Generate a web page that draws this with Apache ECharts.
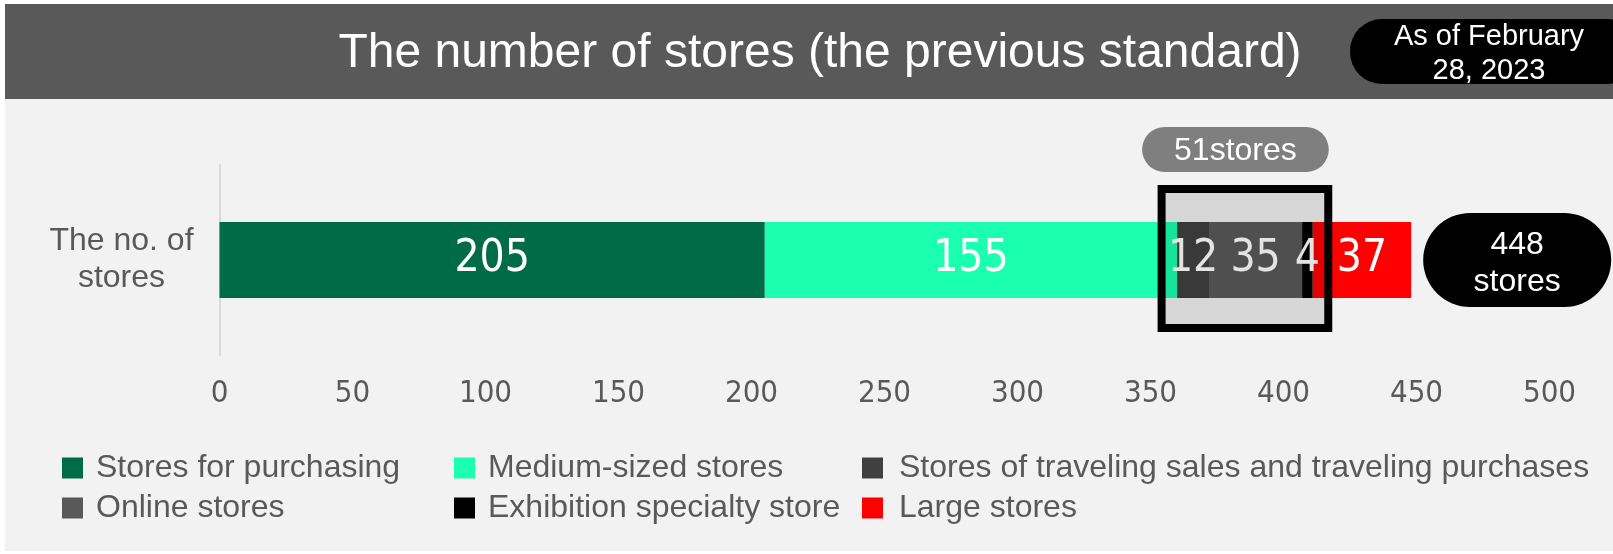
<!DOCTYPE html>
<html>
<head>
<meta charset="utf-8">
<script src="https://cdn.jsdelivr.net/npm/echarts@6/dist/echarts.min.js"></script>
<style>
  html, body { margin: 0; padding: 0; background: #ffffff; }
  #chart { width: 1613px; height: 554px; }
</style>
</head>
<body>
<div id="chart"></div>
<script>
// Store counts by format (single stacked bar)
const categories = ['The no. of\nstores'];
const seriesNames = [
  'Stores for purchasing',
  'Medium-sized stores',
  'Stores of traveling sales and traveling purchases',
  'Online stores',
  'Exhibition specialty store',
  'Large stores'
];
const seriesValues = [205, 155, 12, 35, 4, 37];
const seriesColors = ['#006B47', '#1BFFB1', '#404040', '#595959', '#000000', '#FF0000'];
// Segments grouped by the framed box (traveling, online, exhibition)
const groupedIndices = [2, 3, 4];
const axisMin = 0;
const axisMax = 500;
const axisInterval = 50;
const titleText = 'The number of stores (the previous standard)';
const dateText = 'As of February\n28, 2023';
const storeUnit = 'stores';

const narrowFont = "'Liberation Sans Narrow', 'Arial Narrow', 'DejaVu Sans Condensed', 'Roboto', sans-serif";
const sansFont = "'Liberation Sans', Arial, sans-serif";
const textGray = '#595959';

const chart = echarts.init(document.getElementById('chart'), null, { renderer: 'canvas' });

const series = seriesNames.map((name, i) => ({
  name: name,
  type: 'bar',
  stack: 'total',
  barWidth: 76,
  data: [seriesValues[i]],
  itemStyle: { color: seriesColors[i] },
  label: {
    show: true,
    position: 'inside',
    color: '#ffffff',
    fontFamily: narrowFont,
    fontSize: 44,
    formatter: '{c}'
  },
  emphasis: { disabled: true }
}));

const legendCommon = {
  orient: 'vertical',
  top: 452,
  padding: 0,
  itemWidth: 21,
  itemHeight: 21,
  itemGap: 8,
  icon: 'rect',
  selectedMode: false,
  textStyle: { color: textGray, fontSize: 32, fontFamily: sansFont, padding: [0, 0, 0, 8] }
};

const option = {
  backgroundColor: '#ffffff',
  animation: false,
  grid: { left: 219.5, right: 63.5, top: 165, bottom: 199, containLabel: false },
  legend: [
    Object.assign({}, legendCommon, { left: 62, data: [seriesNames[0], seriesNames[3]] }),
    Object.assign({}, legendCommon, { left: 454, data: [seriesNames[1], seriesNames[4]] }),
    Object.assign({}, legendCommon, { left: 862, data: [seriesNames[2], seriesNames[5]],
      textStyle: Object.assign({}, legendCommon.textStyle, { padding: [0, 0, 0, 11] }) })
  ],
  xAxis: {
    type: 'value',
    min: axisMin,
    max: axisMax,
    interval: axisInterval,
    splitLine: { show: false },
    axisLine: { show: false },
    axisTick: { show: false },
    axisLabel: { color: textGray, fontSize: 31, fontFamily: narrowFont, margin: 23 }
  },
  yAxis: {
    type: 'category',
    data: categories,
    axisLine: { show: true, lineStyle: { color: '#d9d9d9', width: 2 } },
    axisTick: { show: false },
    axisLabel: {
      color: textGray, fontSize: 32, fontFamily: sansFont,
      lineHeight: 37, align: 'center', margin: 98
    }
  },
  series: series
};

chart.setOption(option);

// Annotation shapes positioned from the value axis
const px = (v) => chart.convertToPixel({ xAxisIndex: 0, yAxisIndex: 0 }, [v, 0]);
const cumulative = (n) => seriesValues.slice(0, n).reduce((a, b) => a + b, 0);
const groupStart = cumulative(groupedIndices[0]);
const groupEnd = cumulative(groupedIndices[groupedIndices.length - 1] + 1);
const groupTotal = groupedIndices.reduce((a, i) => a + seriesValues[i], 0);
const grandTotal = cumulative(seriesValues.length);

const pStart = px(groupStart);
const pEnd = px(groupEnd);
const pTotal = px(grandTotal);
const barCenterY = pStart[1];

chart.setOption({
  graphic: [
    // panel and header band
    { type: 'rect', z: -10, silent: true, shape: { x: 5, y: 4, width: 1608, height: 547 }, style: { fill: '#f2f2f2' } },
    { type: 'rect', z: -9, silent: true, shape: { x: 5, y: 4, width: 1608, height: 95 }, style: { fill: '#595959' } },
    { type: 'text', z: 10, silent: true, x: 820, y: 54,
      style: { text: titleText, fill: '#ffffff', font: '48px ' + sansFont, align: 'center', verticalAlign: 'middle' } },
    { type: 'rect', z: 10, silent: true, shape: { x: 1350, y: 19, width: 290, height: 65, r: 32 }, style: { fill: '#000000' } },
    { type: 'text', z: 11, silent: true, x: 1489, y: 54,
      style: { text: dateText, fill: '#ffffff', font: '29px ' + sansFont, lineHeight: 34, align: 'center', verticalAlign: 'middle' } },
    // frame over the grouped segments
    { type: 'rect', z: 50, silent: true,
      shape: { x: pStart[0] - 15.5, y: barCenterY - 71, width: (pEnd[0] - pStart[0]) + 31, height: 139 },
      style: { fill: 'rgba(0,0,0,0.11)', stroke: '#000000', lineWidth: 8 } },
    // grouped-total pill
    { type: 'rect', z: 50, silent: true,
      shape: { x: pStart[0] - 35, y: 127, width: (pEnd[0] - pStart[0]) + 51, height: 45, r: 22.5 },
      style: { fill: '#7f7f7f' } },
    { type: 'text', z: 51, silent: true, x: pStart[0] - 35 + ((pEnd[0] - pStart[0]) + 51) / 2, y: 151,
      style: { text: groupTotal + storeUnit, fill: '#ffffff', font: '32px ' + sansFont, align: 'center', verticalAlign: 'middle' } },
    // grand-total pill
    { type: 'rect', z: 50, silent: true,
      shape: { x: pTotal[0] + 12, y: 213, width: 188, height: 94, r: 47 },
      style: { fill: '#000000' } },
    { type: 'text', z: 51, silent: true, x: pTotal[0] + 12 + 94, y: 264,
      style: { text: grandTotal + '\n' + storeUnit, fill: '#ffffff', font: '32px ' + sansFont, lineHeight: 37, align: 'center', verticalAlign: 'middle' } }
  ]
});
</script>
</body>
</html>
